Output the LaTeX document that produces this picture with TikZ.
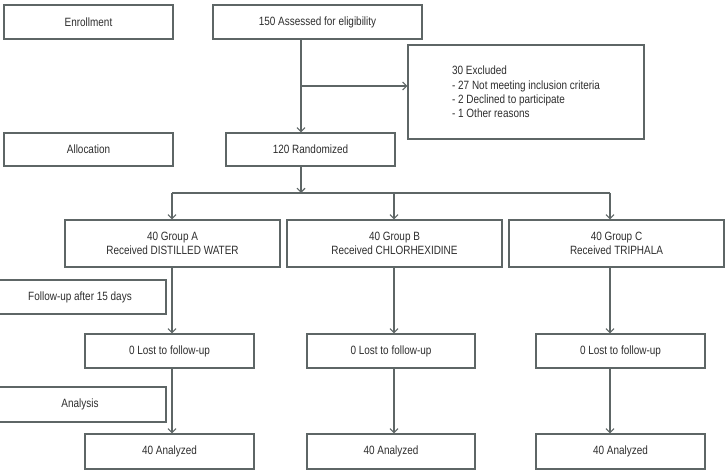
\documentclass[tikz,border=0pt]{standalone}
\usepackage{fontspec}
\setmainfont{Liberation Sans}[FakeStretch=0.83]
\usetikzlibrary{arrows.meta,calc}
\definecolor{linec}{HTML}{5E6666}
\definecolor{textc}{HTML}{2E2E2E}
\begin{document}
\begin{tikzpicture}[x=1pt,y=-1pt,
  box/.style={draw=linec,line width=1.3pt,rectangle,inner sep=0pt,text=textc,font=\fontsize{12}{14.3}\selectfont,align=center},
  conn/.style={draw=linec,line width=1.3pt},
  arr/.style={conn,-{Straight Barb[length=4pt,width=8pt,line width=1.1pt]}}]
\clip (0,0) rectangle (726,473);
\fill[white] (0,0) rectangle (726,473);
% boxes: centre, width, height
\node[box,minimum width=169pt,minimum height=34pt] (enroll) at (88.5,22) {Enrollment};
\node[box,minimum width=209pt,minimum height=34pt] (assess) at (317.5,22) {150 Assessed for eligibility};
\node[box,minimum width=236pt,minimum height=94pt,align=left] (excl) at (526,92) {30 Excluded\\- 27 Not meeting inclusion criteria\\- 2 Declined to participate\\- 1 Other reasons};
\node[box,minimum width=169pt,minimum height=33pt] (alloc) at (88.5,149.5) {Allocation};
\node[box,minimum width=169pt,minimum height=33pt] (rand) at (310.5,149.5) {120 Randomized};
\node[box,minimum width=215pt,minimum height=47pt] (gA) at (172.5,243.5) {40 Group A\\Received DISTILLED WATER};
\node[box,minimum width=215pt,minimum height=47pt] (gB) at (394.5,243.5) {40 Group B\\Received CHLORHEXIDINE};
\node[box,minimum width=215pt,minimum height=47pt] (gC) at (616.5,243.5) {40 Group C\\Received TRIPHALA};
\node[box,minimum width=172pt,minimum height=34pt] (follow) at (80,297) {Follow-up after 15 days};
\node[box,minimum width=169pt,minimum height=34pt] (lostA) at (169.5,351) {0 Lost to follow-up};
\node[box,minimum width=168pt,minimum height=34pt] (lostB) at (391,351) {0 Lost to follow-up};
\node[box,minimum width=169pt,minimum height=34pt] (lostC) at (620.5,351) {0 Lost to follow-up};
\node[box,minimum width=172pt,minimum height=35pt] (analysis) at (80,404.5) {Analysis};
\node[box,minimum width=169pt,minimum height=35pt] (anA) at (169.5,451.5) {40 Analyzed};
\node[box,minimum width=168pt,minimum height=35pt] (anB) at (391,451.5) {40 Analyzed};
\node[box,minimum width=169pt,minimum height=35pt] (anC) at (620.5,451.5) {40 Analyzed};
% connector coordinates
\coordinate (c0) at (301,39);
\coordinate (jx) at (301,86);
\coordinate (r0) at (301,166);
\coordinate (hy) at (301,193);
\coordinate (xa) at (172,193);
\coordinate (xb) at (394,193);
\coordinate (xc) at (610,193);
% connectors
\draw[arr] (c0) -- (c0 |- rand.north);
\draw[arr] (jx) -- (jx -| excl.west);
\draw[arr] (r0) -- (hy);
\draw[conn] (xa) -- (xc);
\draw[arr] (xa) -- (xa |- gA.north);
\draw[arr] (xb) -- (xb |- gB.north);
\draw[arr] (xc) -- (xc |- gC.north);
\draw[arr] (xa |- gA.south) -- (xa |- lostA.north);
\draw[arr] (xb |- gB.south) -- (xb |- lostB.north);
\draw[arr] (xc |- gC.south) -- (xc |- lostC.north);
\draw[arr] (xa |- lostA.south) -- (xa |- anA.north);
\draw[arr] (xb |- lostB.south) -- (xb |- anB.north);
\draw[arr] (xc |- lostC.south) -- (xc |- anC.north);
\end{tikzpicture}
\end{document}
